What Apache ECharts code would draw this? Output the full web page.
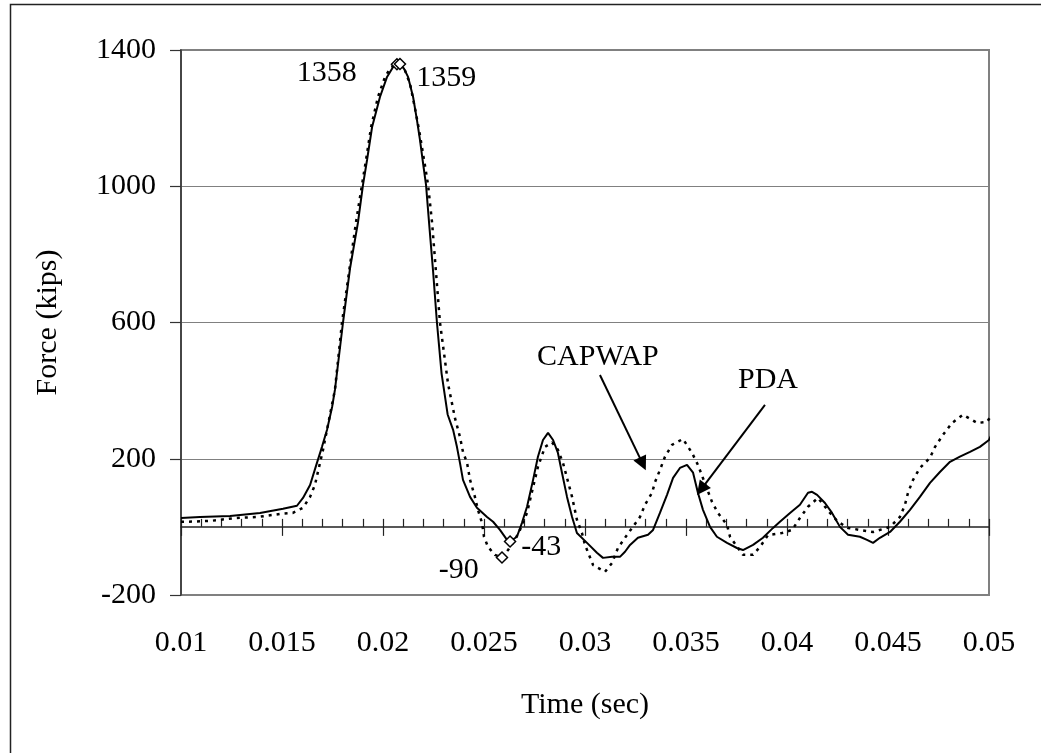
<!DOCTYPE html>
<html>
<head>
<meta charset="utf-8">
<title>Force vs Time</title>
<script src="https://cdn.jsdelivr.net/npm/echarts@6/dist/echarts.min.js"></script>
<style>
  html, body { margin: 0; padding: 0; background: #fff; }
  #chart { width: 1041px; height: 753px; }
</style>
</head>
<body>
<div id="chart"></div>
<script>
// PDA measured force (solid line)
const pdaTime = [0.01000,0.01094,0.01243,0.01391,0.01505,0.01574,0.01604,0.01639,0.01673,0.01698,0.01723,0.01748,0.01762,0.01802,0.01837,0.01876,0.01901,0.01921,0.01946,0.01985,0.02020,0.02050,0.02084,0.02104,0.02124,0.02149,0.02168,0.02183,0.02198,0.02213,0.02228,0.02248,0.02267,0.02290,0.02320,0.02347,0.02366,0.02381,0.02396,0.02431,0.02465,0.02515,0.02545,0.02579,0.02614,0.02629,0.02663,0.02688,0.02713,0.02743,0.02767,0.02792,0.02817,0.02842,0.02866,0.02886,0.02911,0.02936,0.02960,0.03010,0.03059,0.03089,0.03134,0.03173,0.03198,0.03223,0.03262,0.03312,0.03337,0.03371,0.03406,0.03436,0.03470,0.03505,0.03535,0.03559,0.03584,0.03619,0.03653,0.03703,0.03752,0.03782,0.03832,0.03881,0.03931,0.03965,0.04015,0.04064,0.04104,0.04124,0.04149,0.04188,0.04223,0.04262,0.04302,0.04361,0.04396,0.04426,0.04460,0.04510,0.04559,0.04609,0.04658,0.04708,0.04757,0.04807,0.04856,0.04906,0.04955,0.05000,0.05040];
const pdaForce = [26,29,32,41,53,62,85,123,188,235,285,352,402,600,760,893,1004,1077,1174,1262,1321,1350,1359,1345,1321,1262,1195,1136,1069,1004,893,750,600,450,330,285,235,188,138,88,56,29,15,-9,-38,-43,-29,12,59,138,206,255,276,255,217,159,88,29,-18,-47,-76,-91,-88,-88,-73,-53,-32,-23,-9,41,94,144,173,182,159,100,50,0,-29,-47,-62,-68,-53,-32,-3,15,41,65,100,103,94,70,41,0,-23,-29,-38,-47,-32,-15,15,50,88,129,161,191,206,220,235,255,305];

// CAPWAP computed force (dotted line)
const capwapTime = [0.01000,0.01035,0.01153,0.01267,0.01381,0.01490,0.01554,0.01604,0.01639,0.01663,0.01703,0.01762,0.01797,0.01866,0.01896,0.01916,0.01941,0.01975,0.02010,0.02040,0.02069,0.02109,0.02134,0.02158,0.02183,0.02208,0.02223,0.02243,0.02262,0.02282,0.02322,0.02356,0.02381,0.02396,0.02416,0.02431,0.02455,0.02470,0.02490,0.02500,0.02520,0.02554,0.02589,0.02619,0.02653,0.02678,0.02713,0.02743,0.02767,0.02802,0.02837,0.02866,0.02891,0.02936,0.02960,0.02985,0.03000,0.03040,0.03099,0.03134,0.03163,0.03198,0.03233,0.03272,0.03297,0.03332,0.03347,0.03371,0.03396,0.03431,0.03485,0.03530,0.03559,0.03629,0.03658,0.03703,0.03718,0.03782,0.03832,0.03866,0.03906,0.03975,0.04025,0.04064,0.04104,0.04153,0.04213,0.04252,0.04302,0.04361,0.04426,0.04510,0.04559,0.04584,0.04599,0.04624,0.04658,0.04708,0.04733,0.04772,0.04817,0.04871,0.04941,0.04990,0.05030];
const capwapForce = [15,15,18,26,29,38,41,56,88,123,226,402,600,893,1004,1077,1174,1262,1321,1350,1358,1340,1300,1230,1150,1060,1004,893,750,600,420,320,264,220,188,138,88,50,12,-29,-59,-82,-90,-68,-38,-9,41,117,176,235,248,226,188,88,21,-18,-53,-112,-132,-106,-62,-32,-3,29,65,100,132,167,206,241,258,217,182,73,41,6,-29,-82,-82,-59,-24,-18,-9,26,59,85,41,15,-3,-9,-15,0,29,65,100,138,173,203,235,270,305,329,305,308,344];

// Labelled extreme points: peaks and first troughs
const markerTime  = [0.02069, 0.02084, 0.02589, 0.02629];
const markerForce = [1358, 1359, -90, -43];

// Axis ranges and ticks
const xMin = 0.01, xMax = 0.05, xStep = 0.005, xMinorStep = 0.001;
const yMin = -200, yMax = 1400, yStep = 400;

// Annotation arrows [from, to] in data units
const capwapArrow = [[0.03074, 446], [0.03286, 185]];
const pdaArrow = [[0.03891, 358], [0.03575, 110]];
const capwapNote = [0.03064, 499];
const pdaNote = [0.03906, 432];

const FONT = "'Liberation Serif', 'Times New Roman', serif";
const FS = 30;

const pair = (xs, ys) => xs.map((x, i) => [x, ys[i]]);

// Where each extreme-point label sits relative to its diamond
const markerLabelLayout = [
  { position: 'left',  distance: 34, offset: [0, 9] },
  { position: 'right', distance: 10, offset: [0, 14] },
  { position: 'left',  distance: 17, offset: [0, 13] },
  { position: 'right', distance: 5,  offset: [0, 6] }
];

const markers = markerTime.map((t, i) => ({
  value: [t, markerForce[i]],
  label: Object.assign({
    show: true,
    formatter: String(markerForce[i]),
    fontFamily: FONT, fontSize: FS, color: '#000'
  }, markerLabelLayout[i])
}));

const chart = echarts.init(document.getElementById('chart'), null, { renderer: 'canvas' });

const fmtX = v => String(+v.toFixed(4));
const fmtY = v => String(v);

chart.setOption({
  animation: false,
  backgroundColor: '#fff',
  graphic: [{
    type: 'rect', left: 8, top: 2, silent: true,
    shape: { width: 1100, height: 800 },
    style: { fill: 'none', stroke: '#222', lineWidth: 1.5 }
  }],
  grid: {
    left: 181, top: 50, right: 52, bottom: 158,
    show: true, borderColor: '#808080', borderWidth: 2, backgroundColor: 'transparent'
  },
  xAxis: [
    { // bottom labels and title
      type: 'value', min: xMin, max: xMax, interval: xStep, position: 'bottom',
      axisLine: { show: false, onZero: false },
      axisTick: { show: false }, splitLine: { show: false },
      axisLabel: { fontFamily: FONT, fontSize: FS, color: '#000', margin: 33, formatter: fmtX },
      name: 'Time (sec)', nameLocation: 'middle', nameGap: 95,
      nameTextStyle: { fontFamily: FONT, fontSize: FS, color: '#000' }
    },
    { // zero line with minor ticks pointing up
      type: 'value', min: xMin, max: xMax, interval: xMinorStep, position: 'bottom',
      axisLine: { show: true, onZero: true, lineStyle: { color: '#222', width: 1.5 } },
      axisTick: { show: true, inside: true, length: 8, lineStyle: { color: '#222', width: 1.2 } },
      axisLabel: { show: false }, splitLine: { show: false }
    },
    { // zero line major ticks pointing down
      type: 'value', min: xMin, max: xMax, interval: xStep, position: 'bottom',
      axisLine: { show: false, onZero: true },
      axisTick: { show: true, inside: false, length: 9, lineStyle: { color: '#222', width: 1.2 } },
      axisLabel: { show: false }, splitLine: { show: false }
    }
  ],
  yAxis: [
    {
      type: 'value', min: yMin, max: yMax, interval: yStep,
      axisLine: { show: true, onZero: false, lineStyle: { color: '#333', width: 1.5 } },
      axisTick: { show: true, length: 11, lineStyle: { color: '#333', width: 1.2 } },
      axisLabel: { fontFamily: FONT, fontSize: FS, color: '#000', margin: 25, formatter: fmtY },
      splitLine: { show: true, lineStyle: { color: '#808080', width: 1.2 } },
      name: 'Force (kips)', nameLocation: 'middle', nameGap: 118,
      nameTextStyle: { fontFamily: FONT, fontSize: FS, color: '#000' }
    },
    {
      type: 'value', min: yMin, max: yMax, interval: yStep, show: false,
      splitLine: { show: false }
    }
  ],
  series: [
    {
      name: 'PDA', type: 'line', xAxisIndex: 0, yAxisIndex: 0,
      data: pair(pdaTime, pdaForce),
      showSymbol: false, symbol: 'none', clip: false,
      lineStyle: { color: '#000', width: 2 },
      itemStyle: { color: '#000' },
      markLine: {
        silent: true, symbol: ['none', 'triangle'], symbolSize: 14,
        label: { show: false },
        itemStyle: { color: '#000' },
        lineStyle: { color: '#000', width: 2, type: 'solid', opacity: 1 },
        emphasis: { disabled: true },
        data: [
          [{ coord: capwapArrow[0] }, { coord: capwapArrow[1] }],
          [{ coord: pdaArrow[0] }, { coord: pdaArrow[1] }]
        ]
      },
      markPoint: {
        silent: true, symbol: 'circle', symbolSize: 0,
        label: { show: true, position: 'inside', fontFamily: FONT, fontSize: FS, color: '#000' },
        data: [
          { coord: capwapNote, label: { formatter: 'CAPWAP' } },
          { coord: pdaNote, label: { formatter: 'PDA' } }
        ]
      }
    },
    {
      name: 'CAPWAP', type: 'line', xAxisIndex: 0, yAxisIndex: 0,
      data: pair(capwapTime, capwapForce),
      showSymbol: false, symbol: 'none', clip: false,
      lineStyle: { color: '#000', width: 2.5, type: [3, 5] },
      itemStyle: { color: '#000' }
    },
    {
      name: 'Extremes', type: 'scatter', xAxisIndex: 0, yAxisIndex: 0,
      symbol: 'diamond', symbolSize: 11, z: 5,
      itemStyle: { color: '#fff', borderColor: '#000', borderWidth: 1.5, opacity: 1 },
      data: markers
    }
  ]
});
</script>
</body>
</html>
